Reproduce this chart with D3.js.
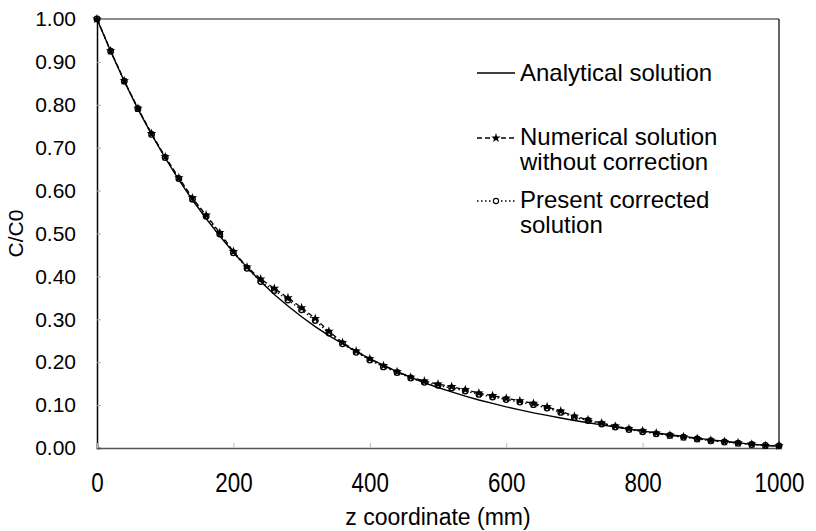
<!DOCTYPE html>
<html>
<head>
<meta charset="utf-8">
<script src="https://cdn.jsdelivr.net/npm/d3@7"></script>
<style>
  html, body { margin: 0; padding: 0; background: #fff; }
  svg { display: block; font-family: "Liberation Sans", Arial, sans-serif; }
</style>
</head>
<body>
<svg id="chart" width="816" height="531"></svg>
<script>
// ---- data ----
const zValues = [0,20,40,60,80,100,120,140,160,180,200,220,240,260,280,300,320,340,360,380,400,
  420,440,460,480,500,520,540,560,580,600,620,640,660,680,700,720,740,760,780,800,
  820,840,860,880,900,920,940,960,980,1000];

const analytical = [1.000,0.925,0.855,0.790,0.731,0.676,0.625,0.578,0.535,0.494,0.456,
  0.421,0.388,0.358,0.331,0.306,0.283,0.262,0.243,0.225,0.208,
  0.193,0.178,0.165,0.152,0.141,0.131,0.121,0.112,0.104,0.096,
  0.089,0.082,0.076,0.070,0.064,0.059,0.054,0.049,0.044,0.040,
  0.035,0.031,0.027,0.023,0.019,0.016,0.012,0.009,0.006,0.004];

const numerical = [1.000,0.926,0.856,0.792,0.733,0.679,0.630,0.583,0.543,0.502,0.458,
  0.422,0.394,0.372,0.350,0.327,0.302,0.272,0.246,0.226,0.208,
  0.192,0.178,0.165,0.156,0.149,0.143,0.136,0.128,0.122,0.116,
  0.110,0.104,0.096,0.086,0.074,0.066,0.058,0.051,0.045,0.040,
  0.035,0.030,0.026,0.022,0.018,0.015,0.012,0.009,0.006,0.005];

const corrected = [1.000,0.925,0.855,0.791,0.731,0.677,0.628,0.580,0.540,0.499,0.455,
  0.419,0.388,0.367,0.345,0.322,0.297,0.268,0.243,0.223,0.205,
  0.189,0.176,0.163,0.153,0.146,0.140,0.133,0.125,0.119,0.113,
  0.107,0.101,0.093,0.083,0.071,0.064,0.056,0.049,0.043,0.038,
  0.033,0.029,0.025,0.021,0.017,0.014,0.011,0.008,0.006,0.005];

const xTicks = [0,200,400,600,800,1000];
const yTicks = [0,0.1,0.2,0.3,0.4,0.5,0.6,0.7,0.8,0.9,1.0];
const seriesNames = ["Analytical solution", "Numerical solution\nwithout correction", "Present corrected\nsolution"];
const xTitle = "z coordinate (mm)";
const yTitle = "C/C0";

// ---- layout ----
const svg = d3.select("#chart");
const margin = {left: 97, right: 37, top: 19, bottom: 83};
const W = 816, H = 531;
const x = d3.scaleLinear().domain([0, 1000]).range([margin.left, W - margin.right]);
const y = d3.scaleLinear().domain([0, 1]).range([H - margin.bottom, margin.top]);

// frame
svg.append("line").attr("x1", x(0)).attr("x2", x(1000)).attr("y1", y(1)).attr("y2", y(1))
  .attr("stroke", "#666").attr("stroke-width", 1.5);
svg.append("line").attr("x1", x(1000)).attr("x2", x(1000)).attr("y1", y(1)).attr("y2", y(0))
  .attr("stroke", "#111").attr("stroke-width", 1.3);

// y axis
const yAxis = d3.axisLeft(y).tickValues(yTicks).tickSize(-4).tickPadding(21)
  .tickFormat(d3.format(".2f"));
const gy = svg.append("g").attr("transform", `translate(${x(0)},0)`).call(yAxis);
gy.select(".domain").attr("stroke", "#000").attr("stroke-width", 1.5);
gy.selectAll(".tick line").attr("stroke", "#aaa");
gy.selectAll(".tick text").attr("font-size", 21).attr("fill", "#000")
  .attr("font-family", "'Liberation Sans', Arial, sans-serif");

// x axis
const xAxis = d3.axisBottom(x).tickValues(xTicks).tickSize(-5).tickPadding(24)
  .tickFormat(d3.format("d"));
const gx = svg.append("g").attr("transform", `translate(0,${y(0)})`).call(xAxis);
gx.select(".domain").attr("stroke", "#555").attr("stroke-width", 1.6);
gx.selectAll(".tick line").attr("stroke", "#bbb");
gx.selectAll(".tick text").attr("font-size", 28).attr("fill", "#000")
  .attr("font-family", "'Liberation Sans', Arial, sans-serif")
  .attr("transform", "scale(0.8,1)");

// titles
svg.append("text").attr("x", (x(0) + x(1000)) / 2).attr("y", 525)
  .attr("text-anchor", "middle").attr("font-size", 23).text(xTitle);
svg.append("text").attr("transform", `translate(23,${(y(0) + y(1)) / 2}) rotate(-90)`)
  .attr("text-anchor", "middle").attr("font-size", 21).text(yTitle);

// lines
const mk = vals => d3.line().x((d, i) => x(zValues[i])).y(d => y(d))(vals);
svg.append("path").attr("d", mk(analytical)).attr("fill", "none")
  .attr("stroke", "#000").attr("stroke-width", 1.4);
svg.append("path").attr("d", mk(numerical)).attr("fill", "none")
  .attr("stroke", "#000").attr("stroke-width", 1.3).attr("stroke-dasharray", "5,3");
svg.append("path").attr("d", mk(corrected)).attr("fill", "none")
  .attr("stroke", "#000").attr("stroke-width", 1.3).attr("stroke-dasharray", "1.5,2.5");

// markers
const star = d3.symbol().type(d3.symbolStar).size(28);
svg.append("g").selectAll("circle").data(corrected).join("circle")
  .attr("cx", (d, i) => x(zValues[i])).attr("cy", d => y(d)).attr("r", 2.8)
  .attr("fill", "none").attr("stroke", "#000").attr("stroke-width", 1.3);
svg.append("g").selectAll("path").data(numerical).join("path")
  .attr("d", star).attr("transform", (d, i) => `translate(${x(zValues[i])},${y(d)})`)
  .attr("fill", "#000");

// legend
const lx0 = 477, lx1 = 515, tx = 520;
const legendRows = [
  {y: 73, base: 81, dash: null, marker: null},
  {y: 138, base: 145, dash: "5,3", marker: "star"},
  {y: 201, base: 208, dash: "1.5,2.5", marker: "circle"}
];
legendRows.forEach((r, k) => {
  svg.append("line").attr("x1", lx0).attr("x2", lx1).attr("y1", r.y).attr("y2", r.y)
    .attr("stroke", "#000").attr("stroke-width", 1.3)
    .attr("stroke-dasharray", r.dash);
  if (r.marker === "star") {
    svg.append("path").attr("d", star).attr("transform", `translate(${(lx0 + lx1) / 2},${r.y})`).attr("fill", "#000");
  } else if (r.marker === "circle") {
    svg.append("circle").attr("cx", (lx0 + lx1) / 2).attr("cy", r.y).attr("r", 2.6)
      .attr("fill", "#fff").attr("stroke", "#000").attr("stroke-width", 1.1);
  }
  const lines = seriesNames[k].split("\n");
  lines.forEach((t, j) => {
    svg.append("text").attr("x", tx).attr("y", r.base + j * 25)
      .attr("font-size", 24).text(t);
  });
});
</script>
</body>
</html>
